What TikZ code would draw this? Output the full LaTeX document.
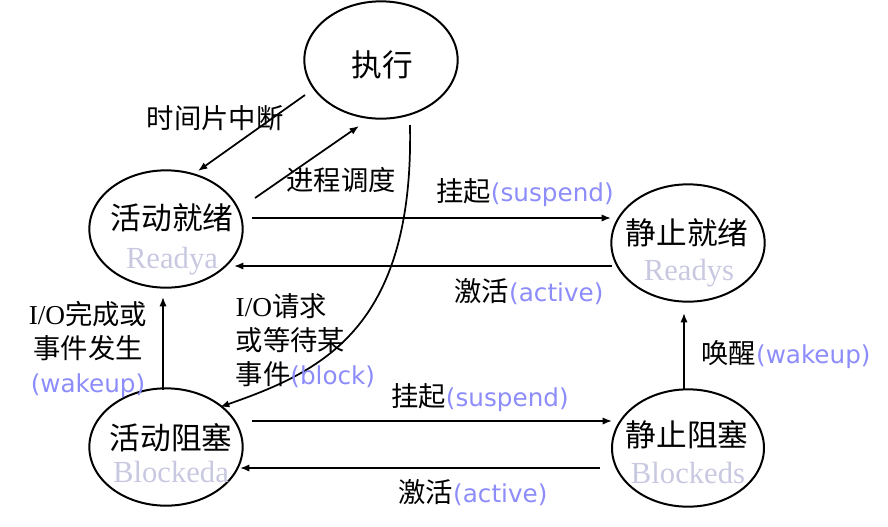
\documentclass[tikz,border=0pt]{standalone}
\usepackage{fontspec}
\setmainfont{Liberation Serif}
\newfontfamily\cjk{Noto Sans CJK SC}
\newfontfamily\verd{DejaVu Sans}
\usetikzlibrary{arrows.meta,shapes.geometric}

\definecolor{wakeblue}{RGB}{140,140,250}
\definecolor{subgrey}{RGB}{200,200,225}
\newcommand\eng[1]{{\verd\fontsize{18.5}{25.5}\selectfont\color{wakeblue}#1}}

\begin{document}
\begin{tikzpicture}[
        x=0.75pt,
        y=-0.75pt,
        state/.style={
            draw,
            ellipse,
            line width=1.5pt,
            minimum width=115pt,
            minimum height=88pt,
        },
        name-cn/.style={
            font=\cjk\fontsize{23}{27}\selectfont,
        },
        name-en/.style={
            font=\fontsize{23}{27}\selectfont,
            text=subgrey,
            anchor=base,
        },
        trans/.style={
            line width=1.3pt,
            -{Latex[length=7pt,width=5.5pt]},
        },
        trans-label/.style={
            font=\cjk\fontsize{20.5}{25.5}\selectfont,
        },
    ]
    \useasboundingbox (0,0) rectangle (888,526);

    % States.
    \node[state] (ex) at (381,60) {};
    \node[state] (ra) at (166,229) {};
    \node[state] (rs) at (688,243) {};
    \node[state] (ba) at (166,447) {};
    \node[state, minimum width=114pt] (bs) at (688,448) {};

    % State names.
    \node[name-cn] (ex-cn) at (382,65) {执行};
    \node[name-cn] (ra-cn) at (172,218) {活动就绪};
    \node[name-en] (ra-en) at (172,268) {Readya};
    \node[name-cn] (rs-cn) at (687,233) {静止就绪};
    \node[name-en] (rs-en) at (689,280) {Readys};
    \node[name-cn] (ba-cn) at (171,438) {活动阻塞};
    \node[name-en] (ba-en) at (171,482) {Blockeda};
    \node[name-cn] (bs-cn) at (687,435) {静止阻塞};
    \node[name-en] (bs-en) at (688,483) {Blockeds};

    % Transitions.
    \draw[trans] ([shift={(-76,35)}]ex.center) -- ([shift={(32,-58)}]ra.center);
    \draw[trans] ([shift={(89,-31)}]ra.center) -- ([shift={(-22,66)}]ex.center);
    \draw[trans] ([shift={(29,65)}]ex.center)
        .. controls +(4,205) and +(100,-35) .. ([shift={(54,-40)}]ba.center);
    \draw[trans] ([shift={(86,-11)}]ra.center) -- ([shift={(-77,-25)}]rs.center);
    \draw[trans] ([shift={(-76,23)}]rs.center) -- ([shift={(68,37)}]ra.center);
    \draw[trans] ([shift={(-3,-57)}]ba.center) -- ([shift={(-3,68)}]ra.center);
    \draw[trans] ([shift={(-4,-59)}]bs.center) -- ([shift={(-4,70)}]rs.center);
    \draw[trans] ([shift={(86,-26)}]ba.center) -- ([shift={(-76,-27)}]bs.center);
    \draw[trans] ([shift={(-88,20)}]bs.center) -- ([shift={(74,21)}]ba.center);

    % Labels.
    \node[trans-label] (lb-slice) at (215,118) {时间片中断};
    \node[trans-label] (lb-dispatch) at (341,180) {进程调度};
    \node[trans-label] (lb-susp-r) at (525,193) {挂起\eng{(suspend)}};
    \node[trans-label] (lb-act-r) at (529,292) {激活\eng{(active)}};
    \node[trans-label, align=center] (lb-wake-a) at (88,349)
        {{\rmfamily I/O}完成或\\事件发生\\\eng{(wakeup)}};
    \node[trans-label, align=left, anchor=west] (lb-block) at (231,341)
        {{\rmfamily I/O}请求\\或等待某\\事件\eng{(block)}};
    \node[trans-label] (lb-susp-b) at (480,398) {挂起\eng{(suspend)}};
    \node[trans-label] (lb-act-b) at (473,493) {激活\eng{(active)}};
    \node[trans-label] (lb-wake-s) at (786,355) {唤醒\eng{(wakeup)}};
\end{tikzpicture}
\end{document}
